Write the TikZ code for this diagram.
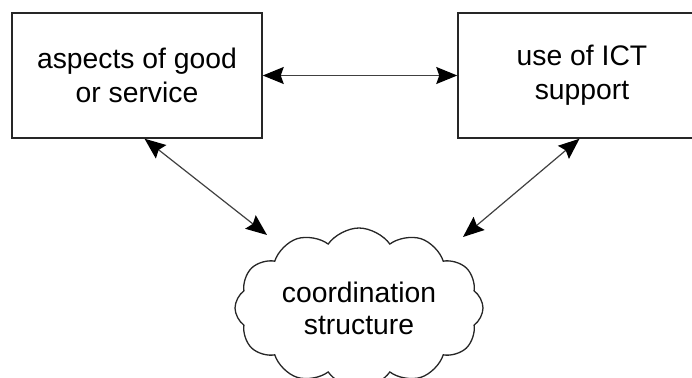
\documentclass[tikz,border=0pt]{standalone}
\usepackage{fontspec}
\setmainfont{Liberation Sans}
\usetikzlibrary{shapes.symbols,arrows.meta,calc}

\tikzset{
  box/.style={draw=black!85, line width=1.5pt, minimum width=250pt, minimum height=125pt,
    inner sep=0pt, align=center, font=\fontsize{28.3}{34}\selectfont},
  puff/.style={cloud, cloud ignores aspect, draw=black!85, line width=1.3pt, cloud puffs=12,
    cloud puff arc=110, minimum width=248pt, minimum height=160pt, inner sep=0pt,
    align=center, font=\fontsize{28.3}{32}\selectfont},
  link/.style={draw=black!75, line width=1.2pt,
    {Stealth[length=21pt,width=17pt,inset=3pt,black]}-{Stealth[length=21pt,width=17pt,inset=3pt,black]}}
}

\begin{document}
\begin{tikzpicture}[x=1pt,y=-1pt]
  \useasboundingbox (0,0) rectangle (692,377);
  \clip (0,0) rectangle (692,377);

  \node[box] (aspects) at (137,75.5) {aspects of good\\or service};
  \node[box, minimum width=248pt] (ict) at (582,75.5) {use of ICT\\support};
  \node[puff] (coord) at (359,308) {coordination\\structure};

  \draw[link] (aspects.east) -- (ict.west);
  \draw[link] ($(aspects.south west)!0.53!(aspects.south east)$) -- ($(coord.center)+(-92,-73)$);
  \draw[link] ($(ict.south west)!0.49!(ict.south east)$) -- ($(coord.center)+(104,-71)$);
\end{tikzpicture}
\end{document}
